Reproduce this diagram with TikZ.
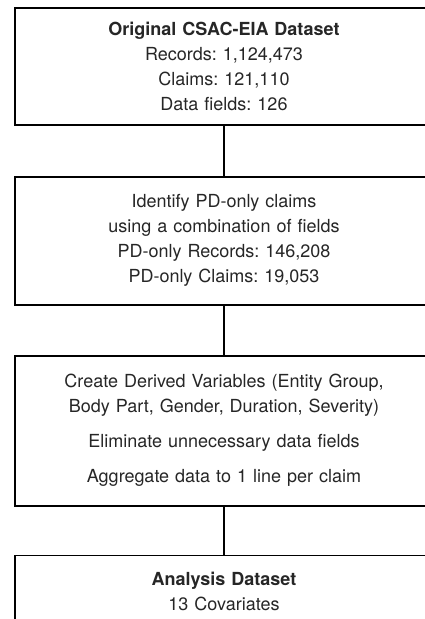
\documentclass[tikz,border=0pt]{standalone}
\usepackage{fontspec}
\setmainfont{TeX Gyre Heros}
\frenchspacing
\usetikzlibrary{positioning}

\begin{document}
\begin{tikzpicture}[x=1pt,y=-1pt,node distance=49pt,
  stage/.style={draw,line width=1.8pt,minimum width=418pt,text width=410pt,align=center,inner sep=0pt,font=\fontsize{18}{25}\selectfont,text=black!85},
  link/.style={line width=1.8pt}]
\useasboundingbox (0,0) rectangle (425,619);

\node[stage,minimum height=117pt] (orig) at (224,66.5) {\textbf{Original CSAC-EIA Dataset}\\Records: 1,124,473\\Claims: 121,110\\Data fields: 126};
\node[stage,minimum height=128pt,below=50pt of orig] (pdonly) {Identify PD-only claims\\using a combination of fields\\PD-only Records: 146,208\\PD-only Claims: 19,053};
\node[stage,minimum height=150pt,below=of pdonly] (derive) {Create Derived Variables (Entity Group,\\Body Part, Gender, Duration, Severity)\\[10pt]Eliminate unnecessary data fields\\[10pt]Aggregate data to 1 line per claim};
\node[stage,minimum height=72pt,below=48pt of derive] (analysis) {\textbf{Analysis Dataset}\\13 Covariates};

\draw[link] (orig) -- (pdonly);
\draw[link] (pdonly) -- (derive);
\draw[link] (derive) -- (analysis);
\end{tikzpicture}
\end{document}
